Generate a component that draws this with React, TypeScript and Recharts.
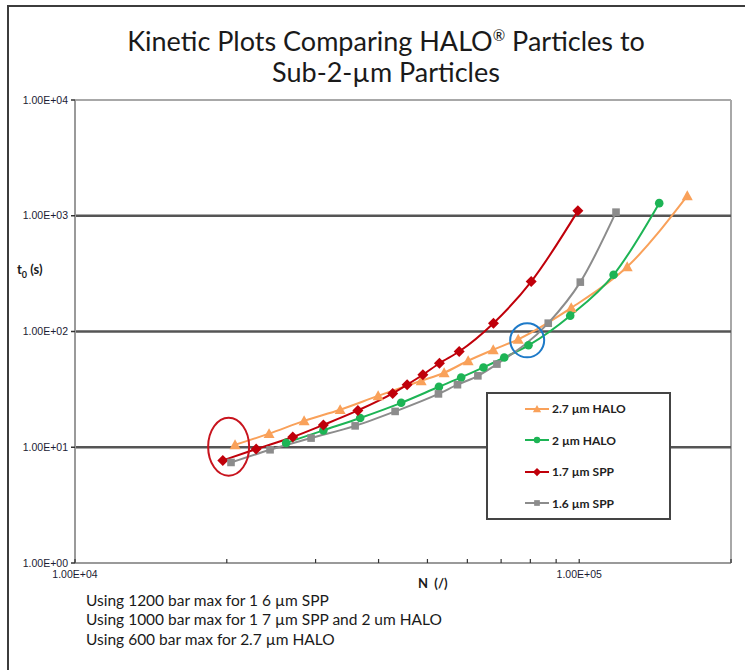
import React from 'react';
import { LineChart, Line, XAxis, YAxis, ReferenceLine, ReferenceDot, Legend } from 'recharts';

// ---- Data ----
const halo27N = [20770, 24260, 28470, 33560, 39920, 48590, 53960, 60220, 67520, 75680, 96410, 124500, 163800];
const halo27T = [10.5, 13.1, 16.9, 21.1, 27.8, 37.5, 44.0, 55.9, 69.5, 85.6, 160, 362, 1485];

const halo2N = [26220, 31090, 36780, 44350, 52700, 58330, 64580, 71010, 79320, 95970, 117000, 144100];
const halo2T = [10.9, 14.0, 17.9, 24.2, 33.3, 40.1, 48.9, 59.6, 76.0, 137, 309, 1285];

const spp17N = [19640, 22870, 27030, 31090, 36390, 42660, 45570, 48970, 52820, 57800, 67600, 80310, 99400];
const spp17T = [7.69, 9.65, 12.25, 15.6, 20.8, 29.2, 34.7, 42.3, 53.2, 67.2, 118, 270, 1102];

const spp16N = [20390, 24370, 29390, 35940, 43140, 52580, 57350, 62950, 68670, 86810, 100500, 118300];
const spp16T = [7.39, 9.51, 12.0, 15.3, 20.4, 28.9, 34.7, 41.4, 52.3, 118, 267, 1074];

const seriesNames = ['2.7 µm HALO', '2 µm HALO', '1.7 µm SPP', '1.6 µm SPP'];

const xTicks = [10000, 20000, 30000, 40000, 50000, 60000, 70000, 80000, 90000, 100000, 200000];
const xLabelTicks = [10000, 100000];
const yTicks = [1, 10, 100, 1000, 10000];
const gridLinesY = [10, 100, 1000];

// annotation markers (data space)
const redEllipse = { n: 20170, t: 10.1 };
const blueCircle = { n: 78850, t: 83.9 };

const titleLines = ['Kinetic Plots Comparing HALO', ' Particles to', 'Sub-2-µm Particles'];
const notes = [
  'Using 1200 bar max for 1 6 µm SPP',
  'Using 1000 bar max for 1 7 µm SPP and 2 um HALO',
  'Using 600 bar max for 2.7 µm HALO',
];

const toSeries = (ns: number[], ts: number[]) => ns.map((n, i) => ({ n, t: ts[i] }));

const COLORS = ['#F9A15A', '#1DB455', '#C0000A', '#8C8C8C'];
const SHAPES = ['triangle', 'circle', 'diamond', 'square'];

const Marker = ({ shape, cx, cy, color, s = 1 }: any) => {
  if (cx == null || cy == null) return null;
  if (shape === 'triangle') {
    const h = 5.5 * s;
    return <polygon points={`${cx},${cy - h} ${cx - h},${cy + h * 0.8} ${cx + h},${cy + h * 0.8}`} fill={color} />;
  }
  if (shape === 'circle') return <circle cx={cx} cy={cy} r={4.3 * s} fill={color} />;
  if (shape === 'diamond') {
    const d = 5.5 * s;
    return <polygon points={`${cx},${cy - d} ${cx + d},${cy} ${cx},${cy + d} ${cx - d},${cy}`} fill={color} />;
  }
  const q = 3.8 * s;
  return <rect x={cx - q} y={cy - q} width={q * 2} height={q * 2} fill={color} />;
};

const makeDot = (i: number) => (props: any) => (
  <Marker key={`${i}-${props.index}`} shape={SHAPES[i]} cx={props.cx} cy={props.cy} color={COLORS[i]} />
);

const fmtE = (v: number) => {
  const e = Math.round(Math.log10(v));
  return `1.00E+${e < 10 ? '0' + e : e}`;
};

const XTick = (props: any) => {
  const { x, y, payload } = props;
  const v = payload.value;
  return (
    <g>
      <line x1={x} y1={y} x2={x} y2={y - 4} stroke="#333" strokeWidth={1.2} />
      {xLabelTicks.includes(v) && (
        <text x={x} y={y + 15} textAnchor="middle" fontSize={10.5} fill="#1b1b33" fontFamily="Liberation Sans, Arial, sans-serif">
          {fmtE(v)}
        </text>
      )}
    </g>
  );
};

const YTick = (props: any) => {
  const { x, y, payload } = props;
  return (
    <text x={x - 1} y={y + 3.5} textAnchor="end" fontSize={10.5} fill="#1b1b33" fontFamily="Liberation Sans, Arial, sans-serif">
      {fmtE(payload.value)}
    </text>
  );
};

const renderLegend = () => (
  <div
    style={{
      width: 185,
      height: 128,
      border: '2px solid #444',
      background: '#fff',
      boxSizing: 'border-box',
      paddingTop: 0,
    }}
  >
    {seriesNames.map((name, i) => (
      <div key={name} style={{ display: 'flex', alignItems: 'center', height: 31.5, marginTop: i === 0 ? -1 : 0 }}>
        <svg width={64} height={14} style={{ display: 'block' }}>
          <line x1={37} y1={7} x2={61} y2={7} stroke={COLORS[i]} strokeWidth={2} />
          <Marker shape={SHAPES[i]} cx={49} cy={7} color={COLORS[i]} s={0.75} />
        </svg>
        <span style={{ fontFamily: 'Lato, sans-serif', fontWeight: 700, fontSize: 12, color: '#222' }}>
          {name}
        </span>
      </div>
    ))}
  </div>
);

export default function App() {
  const data = [
    toSeries(halo27N, halo27T),
    toSeries(halo2N, halo2T),
    toSeries(spp17N, spp17T),
    toSeries(spp16N, spp16T),
  ];
  return (
    <div style={{ position: 'absolute', left: 0, top: 0, width: 745, height: 670, background: '#fff', overflow: 'hidden' }}>
      {/* outer frame */}
      <div style={{ position: 'absolute', left: 7, top: 5, width: 760, height: 700, borderLeft: '2px solid #3c3c3c', borderTop: '2px solid #3c3c3c' }} />
      {/* title */}
      <div
        style={{
          position: 'absolute',
          left: 0,
          top: 25,
          width: 772,
          textAlign: 'center',
          fontFamily: 'Lato, sans-serif',
          fontSize: 27,
          lineHeight: '31px',
          color: '#1a1a1a',
        }}
      >
        {titleLines[0]}
        <sup style={{ fontSize: 15, verticalAlign: 'top', lineHeight: '20px' }}>®</sup>
        {titleLines[1]}
        <br />
        {titleLines[2]}
      </div>
      <LineChart width={745} height={670} margin={{ top: 100, right: 14, bottom: 77, left: 5 }}>
        <XAxis
          dataKey="n"
          type="number"
          scale="log"
          domain={[10000, 200000]}
          ticks={xTicks}
          allowDataOverflow
          tickSize={0}
          tickMargin={0}
          tickLine={false}
          axisLine={{ stroke: '#9a9a9a', strokeWidth: 2 }}
          tick={<XTick />}
          height={30}
          interval={0}
        />
        <YAxis
          dataKey="t"
          type="number"
          scale="log"
          domain={[1, 10000]}
          ticks={yTicks}
          allowDataOverflow
          width={70}
          tickSize={4}
          tickLine={{ stroke: '#333', strokeWidth: 1.5 }}
          axisLine={{ stroke: '#9a9a9a', strokeWidth: 2 }}
          tick={<YTick />}
          interval={0}
        />
        <ReferenceLine y={10000} stroke="#a8a8a8" strokeWidth={2} />
        <ReferenceLine x={200000} stroke="#a8a8a8" strokeWidth={2} />
        {gridLinesY.map((g) => (
          <ReferenceLine key={g} y={g} stroke="#555" strokeWidth={2.5} />
        ))}
        <Legend
          layout="vertical"
          verticalAlign="middle"
          align="center"
          content={renderLegend}
          wrapperStyle={{ position: 'absolute', left: 486, top: 392, width: 185, height: 128 }}
        />
        {data.map((d, i) => (
          <Line
            key={seriesNames[i]}
            data={d}
            dataKey="t"
            name={seriesNames[i]}
            type="monotone"
            stroke={COLORS[i]}
            strokeWidth={2}
            dot={makeDot(i)}
            activeDot={false}
            isAnimationActive={false}
            legendType="none"
          />
        ))}
        <ReferenceDot
          x={redEllipse.n}
          y={redEllipse.t}
          ifOverflow="visible"
          shape={(p: any) => <ellipse cx={p.cx} cy={p.cy} rx={20.5} ry={29} fill="none" stroke="#C8141E" strokeWidth={2} />}
        />
        <ReferenceDot
          x={blueCircle.n}
          y={blueCircle.t}
          ifOverflow="visible"
          shape={(p: any) => <circle cx={p.cx} cy={p.cy} r={17} fill="none" stroke="#1E7AC8" strokeWidth={2} />}
        />
      </LineChart>
      {/* y axis title */}
      <div style={{ position: 'absolute', left: 17, top: 261, fontFamily: 'Lato, sans-serif', fontWeight: 700, fontSize: 13, color: '#1a1a1a' }}>
        t<sub style={{ fontSize: 9 }}>0</sub> (s)
      </div>
      {/* x axis title */}
      <div style={{ position: 'absolute', left: 418, top: 575, fontFamily: 'Lato, sans-serif', fontWeight: 700, fontSize: 13, color: '#1a1a1a', whiteSpace: 'pre' }}>
        {'N  (/)'}
      </div>
      {/* notes */}
      <div style={{ position: 'absolute', left: 86, top: 591, fontFamily: 'Lato, sans-serif', fontSize: 15.5, lineHeight: '19.3px', color: '#1a1a1a' }}>
        {notes.map((n) => (
          <div key={n}>{n}</div>
        ))}
      </div>
    </div>
  );
}
